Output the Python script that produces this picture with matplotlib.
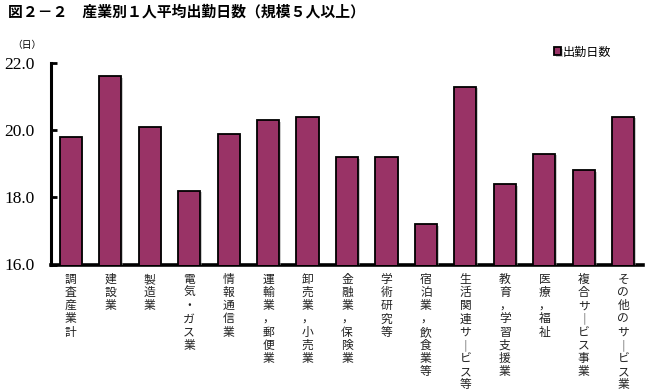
import matplotlib
matplotlib.use("Agg")
import matplotlib.pyplot as plt
import matplotlib.patheffects as pe
import numpy as np

plt.rcParams['font.family'] = ['Noto Sans CJK JP', 'DejaVu Sans']

# Data
categories = ["調査産業計", "建設業", "製造業", "電気・ガス業", "情報通信業",
              "運輸業，郵便業", "卸売業，小売業", "金融業，保険業", "学術研究等",
              "宿泊業，飲食業等", "生活関連サービス等", "教育，学習支援業",
              "医療，福祉", "複合サービス事業", "その他のサービス業"]
days = [19.8, 21.6, 20.1, 18.2, 19.9, 20.3, 20.4, 19.2, 19.2,
        17.2, 21.3, 18.4, 19.3, 18.8, 20.4]
y_ticks = [16.0, 18.0, 20.0, 22.0]


def vertical(label):
    """stack characters top to bottom like the original vertical labels"""
    return "\n".join("｜" if c == "ー" else c for c in label)


fig = plt.figure(figsize=(6.45, 3.9), dpi=100)
ax = fig.add_axes([51 / 645, 1 - 264.5 / 390, 592 / 645, 201.5 / 390])

x = np.arange(len(categories))
bars = ax.bar(x, days, width=0.56, color="#993366", edgecolor="black", linewidth=1.3,
              label="出勤日数", zorder=3)
for b in bars:
    b.set_path_effects([pe.SimplePatchShadow(offset=(1.2, -1.2), shadow_rgbFace="#999999",
                                             alpha=0.5), pe.Normal()])

ax.set_xlim(-0.5, len(categories) - 0.5)
ax.set_ylim(16.0, 22.0)
ax.set_yticks(y_ticks)
ax.set_yticklabels([f"{v:.1f}" for v in y_ticks], family="Liberation Serif", fontsize=12.5)
ax.tick_params(axis="y", direction="in", length=4, width=2, pad=12)
ax.set_xticks(x)
ax.set_xticklabels([vertical(c) for c in categories], fontsize=8.5,
                   linespacing=1.02, va="top", color="#222222")
ax.tick_params(axis="x", length=0, pad=6)

for side in ["top", "right"]:
    ax.spines[side].set_visible(False)
ax.spines["left"].set_linewidth(2.2)
ax.spines["bottom"].set_linewidth(2.6)

fig.text(8 / 645, 1 - 12 / 390, "図２－２　産業別１人平均出勤日数（規模５人以上）",
         fontsize=10.7, fontweight="bold", va="center", ha="left")
fig.text(27 / 645, 1 - 45 / 390, "（日）", fontsize=7, va="center", ha="center")

ax.legend(loc="center left", bbox_to_anchor=(548 / 645, 1 - 52 / 390),
          bbox_transform=fig.transFigure, frameon=False, fontsize=8.7,
          handlelength=0.6, handleheight=0.6, handletextpad=0.1, borderpad=0)

fig.savefig("out.png", dpi=100)
